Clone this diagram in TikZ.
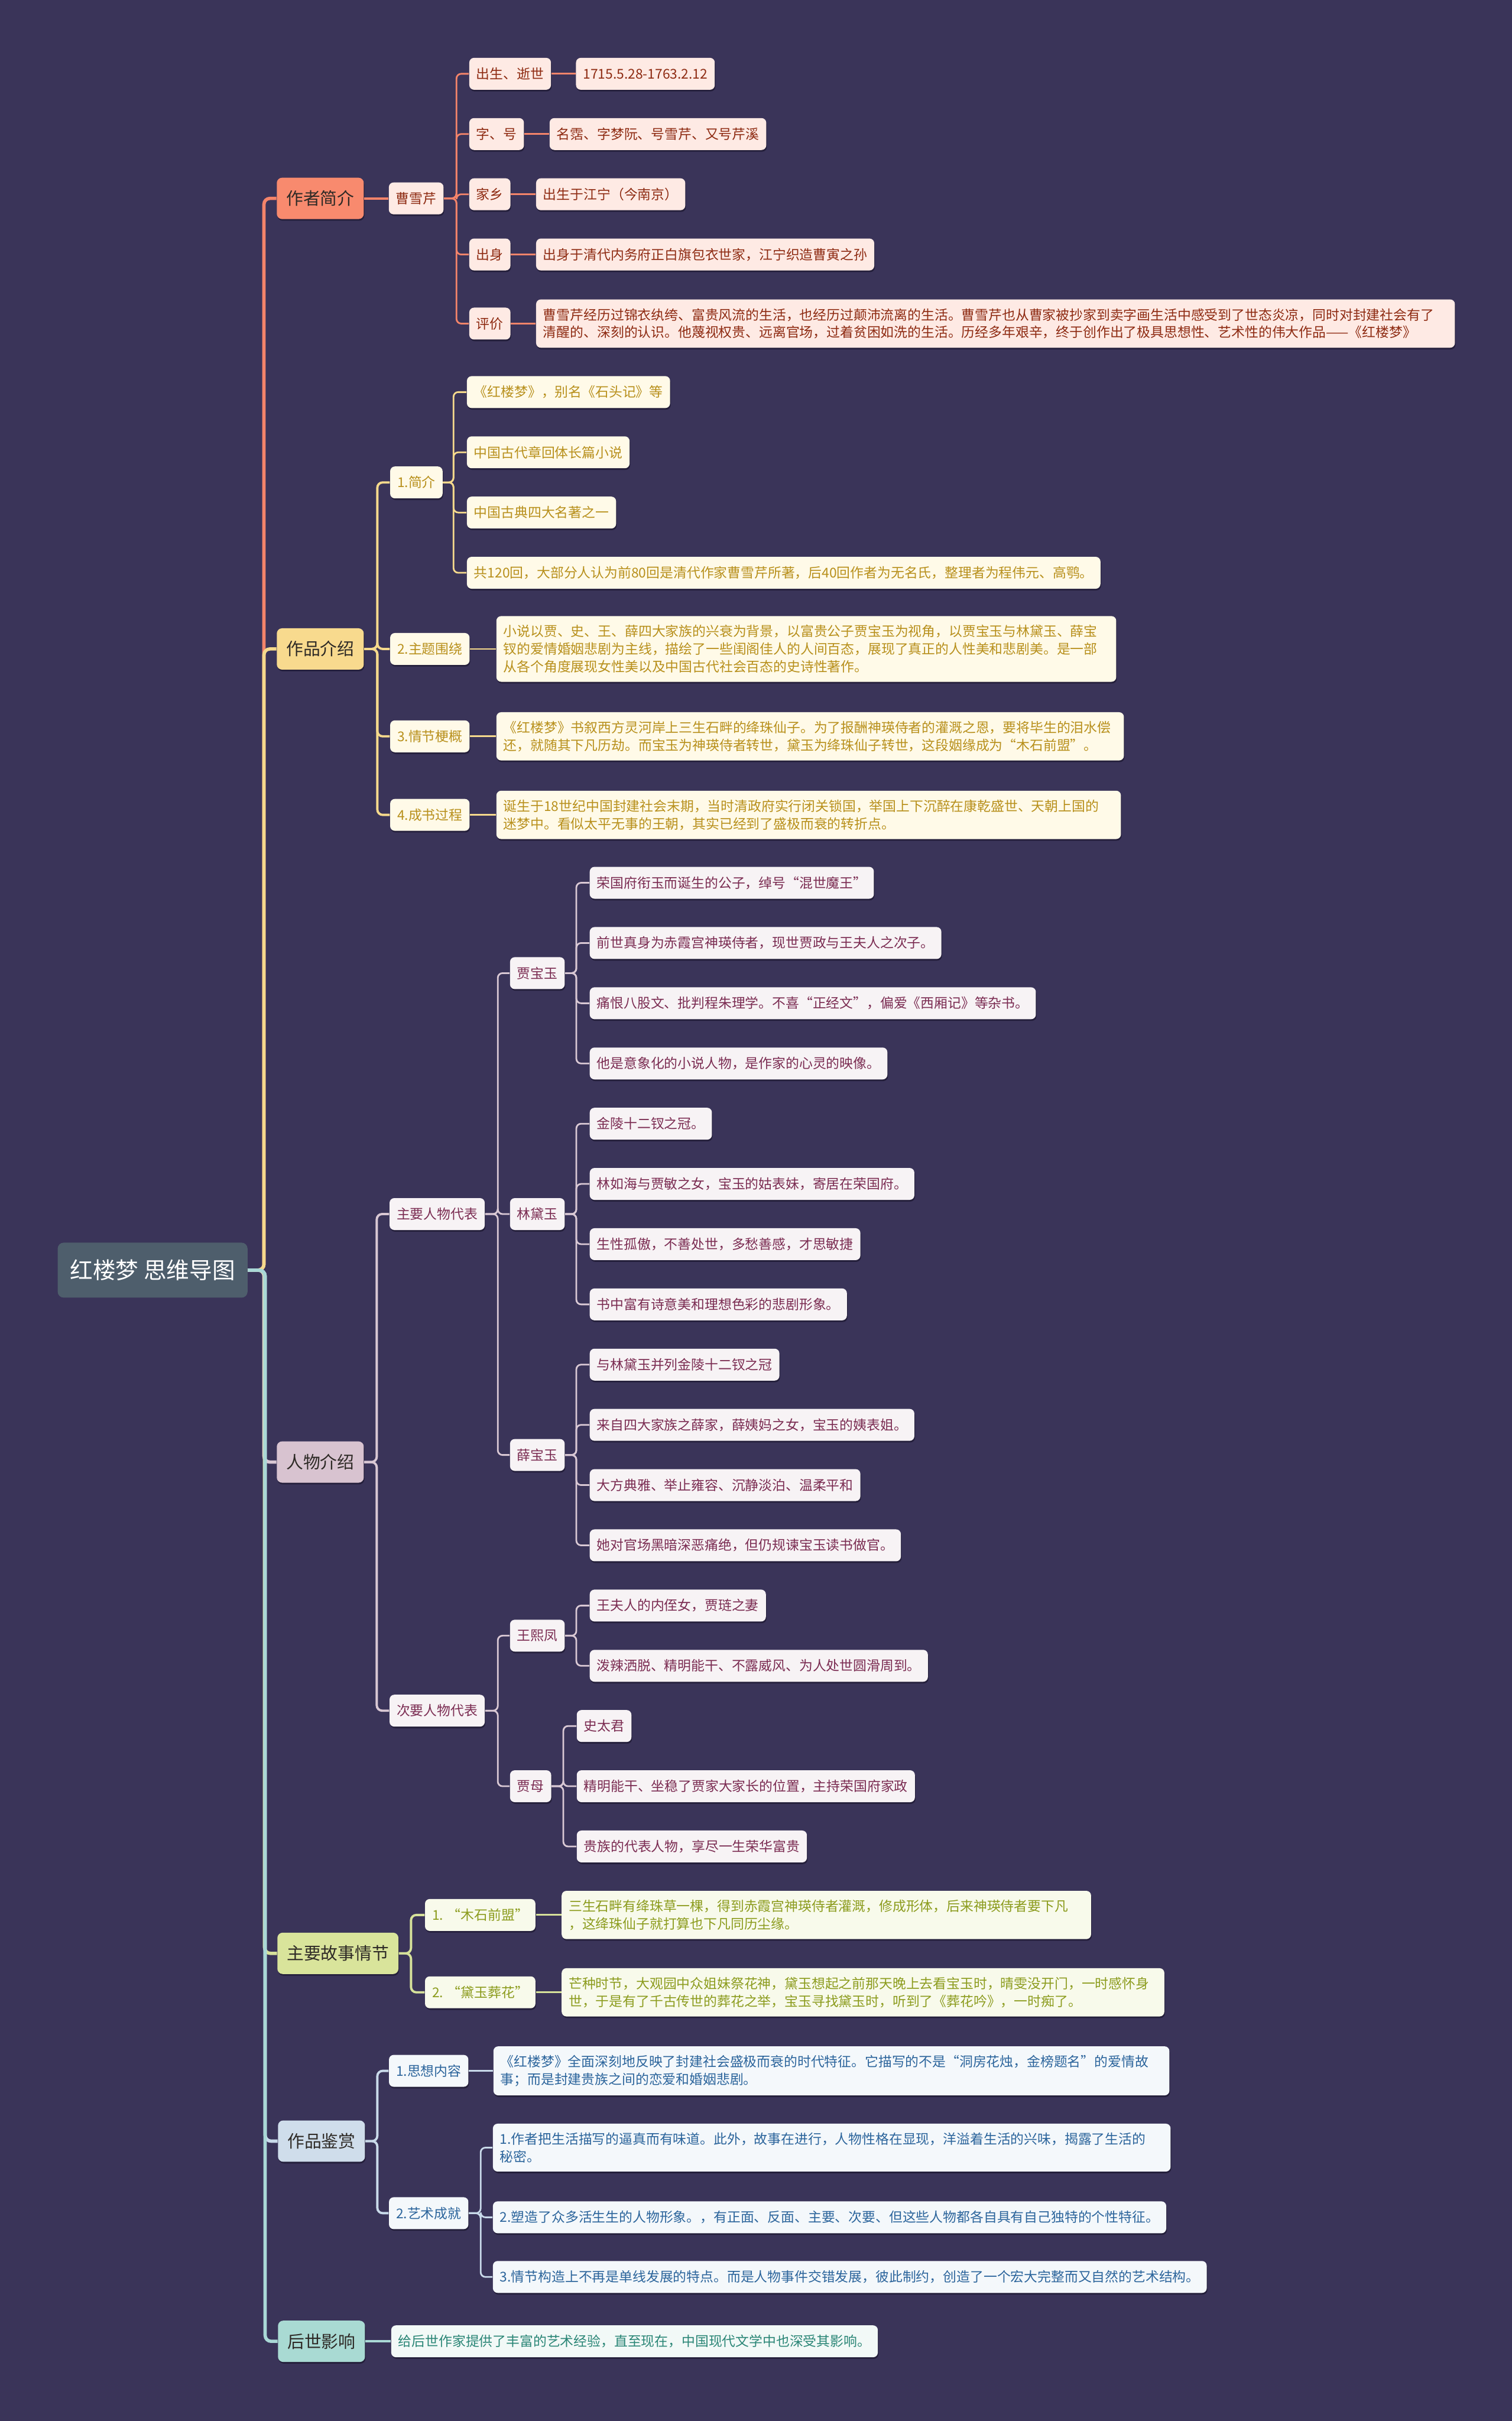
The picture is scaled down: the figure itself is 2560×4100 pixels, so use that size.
\documentclass[tikz,border=0pt]{standalone}
\usepackage{fontspec}
\setmainfont{Noto Sans CJK SC}
\usepackage{tikz}
\usetikzlibrary{shapes,positioning,calc,shadows}

\definecolor{bgc}{HTML}{3A3459}
\definecolor{rootfill}{HTML}{4E5E6C}
\definecolor{topictext}{HTML}{2E2A26}
\definecolor{shadowc}{HTML}{221D38}
% branch colours
\definecolor{authortop}{HTML}{F88A6E}
\definecolor{authorline}{HTML}{F4846A}
\definecolor{authorleaf}{HTML}{FEEAE4}
\definecolor{authortext}{HTML}{8E2B12}
\definecolor{worktop}{HTML}{F8DA8E}
\definecolor{workline}{HTML}{F5D98C}
\definecolor{workleaf}{HTML}{FFFAE8}
\definecolor{worktext}{HTML}{B8901C}
\definecolor{chartop}{HTML}{D8C3D0}
\definecolor{charline}{HTML}{D9C8D4}
\definecolor{charleaf}{HTML}{F7F3F5}
\definecolor{chartext}{HTML}{7B2C52}
\definecolor{plottop}{HTML}{D9E49B}
\definecolor{plotline}{HTML}{D6E19A}
\definecolor{plotleaf}{HTML}{F8FAEB}
\definecolor{plottext}{HTML}{8C9C1E}
\definecolor{apprtop}{HTML}{CFDDEB}
\definecolor{apprline}{HTML}{C9DAEA}
\definecolor{apprleaf}{HTML}{F4F8FB}
\definecolor{apprtext}{HTML}{2C659C}
\definecolor{infltop}{HTML}{A9DAD3}
\definecolor{inflline}{HTML}{A9D8D6}
\definecolor{inflleaf}{HTML}{F2F9F7}
\definecolor{infltext}{HTML}{2A8676}

\begin{document}
\begin{tikzpicture}[x=0.01cm, y=-0.01cm,
    boxshadow/.style={drop shadow={shadow xshift=0.3pt, shadow yshift=-0.8pt, fill=shadowc, opacity=0.9}},
    mapcentre/.style={rounded corners=0.1cm, fill=rootfill, text=white, font=\fontsize{11}{13}\selectfont, inner xsep=0.21cm, minimum height=0.93cm},
    topicbox/.style={rounded corners=0.09cm, text=topictext, font=\fontsize{8.2}{10}\selectfont, inner xsep=0.16cm, minimum height=0.7cm, boxshadow},
    subbox/.style={rounded corners=0.08cm, font=\fontsize{6.5}{8.5}\selectfont, inner xsep=0.12cm, inner ysep=0.15cm, minimum height=0.54cm, align=left, boxshadow},
    linkA/.style={line width=1.6pt, rounded corners=0.1cm},
    linkB/.style={line width=1.1pt, rounded corners=0.09cm},
    linkC/.style={line width=0.8pt, rounded corners=0.08cm},
    authorbox/.style={subbox, fill=authorleaf, text=authortext},
    workbox/.style={subbox, fill=workleaf, text=worktext},
    charbox/.style={subbox, fill=charleaf, text=chartext},
    plotbox/.style={subbox, fill=plotleaf, text=plottext},
    apprbox/.style={subbox, fill=apprleaf, text=apprtext},
    inflbox/.style={subbox, fill=inflleaf, text=infltext}]

    \fill[bgc] (0,0) rectangle (2560,4100);

    % Centre
    \node (root) [mapcentre, anchor=west] at (97,2151) {红楼梦 思维导图};

    % Main topics
    \node (t1) [topicbox, fill=authortop, anchor=west] at (468,336) {作者简介};
    \node (t2) [topicbox, fill=worktop, anchor=west] at (468,1099) {作品介绍};
    \node (t3) [topicbox, fill=chartop, anchor=west] at (468,2476) {人物介绍};
    \node (t4) [topicbox, fill=plottop, anchor=west] at (469,3308) {主要故事情节};
    \node (t5) [topicbox, fill=apprtop, anchor=west] at (470,3626) {作品鉴赏};
    \node (t6) [topicbox, fill=infltop, anchor=west] at (470,3965) {后世影响};

    % Author
    \node (a0) [authorbox, right=0.41cm of t1] {曹雪芹};
    \node (a1) [authorbox, anchor=west] at (794,125) {出生、逝世};
    \node (a2) [authorbox, anchor=west] at (794,227) {字、号};
    \node (a3) [authorbox, anchor=west] at (794,329) {家乡};
    \node (a4) [authorbox, anchor=west] at (794,431) {出身};
    \node (a5) [authorbox, anchor=west] at (794,548) {评价};
    \node (a1v) [authorbox, right=0.41cm of a1] {1715.5.28-1763.2.12};
    \node (a2v) [authorbox, right=0.42cm of a2] {名霑、字梦阮、号雪芹、又号芹溪};
    \node (a3v) [authorbox, right=0.42cm of a3] {出生于江宁（今南京）};
    \node (a4v) [authorbox, right=0.42cm of a4] {出身于清代内务府正白旗包衣世家，江宁织造曹寅之孙};
    \node (a5v) [authorbox, right=0.42cm of a5, text width=15.31cm] {曹雪芹经历过锦衣纨绔、富贵风流的生活，也经历过颠沛流离的生活。曹雪芹也从曹家被抄家到卖字画生活中感受到了世态炎凉，同时对封建社会有了\\清醒的、深刻的认识。他蔑视权贵、远离官场，过着贫困如洗的生活。历经多年艰辛，终于创作出了极具思想性、艺术性的伟大作品——《红楼梦》};

    % Work
    \node (b1) [workbox, anchor=west] at (660,817) {1.简介};
    \node (b2) [workbox, anchor=west] at (660,1099) {2.主题围绕};
    \node (b3) [workbox, anchor=west] at (660,1247) {3.情节梗概};
    \node (b4) [workbox, anchor=west] at (660,1380) {4.成书过程};
    \node (b11) [workbox, anchor=west] at (790,664) {《红楼梦》，别名《石头记》等};
    \node (b12) [workbox, anchor=west] at (790,766) {中国古代章回体长篇小说};
    \node (b13) [workbox, anchor=west] at (790,868) {中国古典四大名著之一};
    \node (b14) [workbox, anchor=west] at (790,970) {共120回，大部分人认为前80回是清代作家曹雪芹所著，后40回作者为无名氏，整理者为程伟元、高鹗。};
    \node (b2v) [workbox, right=0.44cm of b2, text width=10.25cm] {小说以贾、史、王、薛四大家族的兴衰为背景，以富贵公子贾宝玉为视角，以贾宝玉与林黛玉、薛宝\\钗的爱情婚姻悲剧为主线，描绘了一些闺阁佳人的人间百态，展现了真正的人性美和悲剧美。是一部\\从各个角度展现女性美以及中国古代社会百态的史诗性著作。};
    \node (b3v) [workbox, right=0.44cm of b3, text width=10.38cm] {《红楼梦》书叙西方灵河岸上三生石畔的绛珠仙子。为了报酬神瑛侍者的灌溉之恩，要将毕生的泪水偿\\还，就随其下凡历劫。而宝玉为神瑛侍者转世，黛玉为绛珠仙子转世，这段姻缘成为“木石前盟”。};
    \node (b4v) [workbox, right=0.44cm of b4, text width=10.33cm] {诞生于18世纪中国封建社会末期，当时清政府实行闭关锁国，举国上下沉醉在康乾盛世、天朝上国的\\迷梦中。看似太平无事的王朝，其实已经到了盛极而衰的转折点。};

    % Characters
    \node (c1) [charbox, anchor=west] at (659,2056) {主要人物代表};
    \node (c2) [charbox, anchor=west] at (659,2897) {次要人物代表};
    \node (c11) [charbox, anchor=west] at (863,1648) {贾宝玉};
    \node (c12) [charbox, anchor=west] at (863,2056) {林黛玉};
    \node (c13) [charbox, anchor=west] at (863,2464) {薛宝玉};
    \node (c21) [charbox, anchor=west] at (863,2770) {王熙凤};
    \node (c22) [charbox, anchor=west] at (863,3025) {贾母};
    \node (c111) [charbox, anchor=west] at (998,1495) {荣国府衔玉而诞生的公子，绰号“混世魔王”};
    \node (c112) [charbox, anchor=west] at (998,1597) {前世真身为赤霞宫神瑛侍者，现世贾政与王夫人之次子。};
    \node (c113) [charbox, anchor=west] at (998,1699) {痛恨八股文、批判程朱理学。不喜“正经文”，偏爱《西厢记》等杂书。};
    \node (c114) [charbox, anchor=west] at (998,1801) {他是意象化的小说人物，是作家的心灵的映像。};
    \node (c121) [charbox, anchor=west] at (998,1903) {金陵十二钗之冠。};
    \node (c122) [charbox, anchor=west] at (998,2005) {林如海与贾敏之女，宝玉的姑表妹，寄居在荣国府。};
    \node (c123) [charbox, anchor=west] at (998,2107) {生性孤傲，不善处世，多愁善感，才思敏捷};
    \node (c124) [charbox, anchor=west] at (998,2209) {书中富有诗意美和理想色彩的悲剧形象。};
    \node (c131) [charbox, anchor=west] at (998,2311) {与林黛玉并列金陵十二钗之冠};
    \node (c132) [charbox, anchor=west] at (998,2413) {来自四大家族之薛家，薛姨妈之女，宝玉的姨表姐。};
    \node (c133) [charbox, anchor=west] at (998,2515) {大方典雅、举止雍容、沉静淡泊、温柔平和};
    \node (c134) [charbox, anchor=west] at (998,2617) {她对官场黑暗深恶痛绝，但仍规谏宝玉读书做官。};
    \node (c211) [charbox, anchor=west] at (998,2719) {王夫人的内侄女，贾琏之妻};
    \node (c212) [charbox, anchor=west] at (998,2821) {泼辣洒脱、精明能干、不露威风、为人处世圆滑周到。};
    \node (c221) [charbox, anchor=west] at (976,2923) {史太君};
    \node (c222) [charbox, anchor=west] at (976,3025) {精明能干、坐稳了贾家大家长的位置，主持荣国府家政};
    \node (c223) [charbox, anchor=west] at (976,3127) {贵族的代表人物，享尽一生荣华富贵};

    % Plot
    \node (d1) [plotbox, anchor=west] at (719,3243) {1. “木石前盟”};
    \node (d2) [plotbox, anchor=west] at (719,3374) {2. “黛玉葬花”};
    \node (d1v) [plotbox, right=0.43cm of d1, text width=8.72cm] {三生石畔有绛珠草一棵，得到赤霞宫神瑛侍者灌溉，修成形体，后来神瑛侍者要下凡\\，这绛珠仙子就打算也下凡同历尘缘。};
    \node (d2v) [plotbox, right=0.43cm of d2, text width=9.96cm] {芒种时节，大观园中众姐妹祭花神，黛玉想起之前那天晚上去看宝玉时，晴雯没开门，一时感怀身\\世，于是有了千古传世的葬花之举，宝玉寻找黛玉时，听到了《葬花吟》，一时痴了。};

    % Appreciation
    \node (e1) [apprbox, anchor=west] at (658,3507) {1.思想内容};
    \node (e2) [apprbox, anchor=west] at (658,3748) {2.艺术成就};
    \node (e1v) [apprbox, right=0.41cm of e1, text width=11.2cm] {《红楼梦》全面深刻地反映了封建社会盛极而衰的时代特征。它描写的不是“洞房花烛，金榜题名”的爱情故\\事；而是封建贵族之间的恋爱和婚姻悲剧。};
    \node (e21) [apprbox, anchor=west, text width=11.23cm] at (834,3637) {1.作者把生活描写的逼真而有味道。此外，故事在进行，人物性格在显现，洋溢着生活的兴味，揭露了生活的\\秘密。};
    \node (e22) [apprbox, anchor=west] at (834,3755) {2.塑造了众多活生生的人物形象。，有正面、反面、主要、次要、但这些人物都各自具有自己独特的个性特征。};
    \node (e23) [apprbox, anchor=west] at (834,3856) {3.情节构造上不再是单线发展的特点。而是人物事件交错发展，彼此制约，创造了一个宏大完整而又自然的艺术结构。};

    % Influence
    \node (f1) [inflbox, right=0.43cm of t6] {给后世作家提供了丰富的艺术经验，直至现在，中国现代文学中也深受其影响。};

    % Links from centre
    \draw [linkA, authorline] (root.east) -| ([xshift=-0.21cm]t1.west) -- (t1.west);
    \draw [linkA, workline] (root.east) -| ([xshift=-0.21cm]t2.west) -- (t2.west);
    \draw [linkA, charline] (root.east) -| ([xshift=-0.21cm]t3.west) -- (t3.west);
    \draw [linkA, plotline] (root.east) -| ([xshift=-0.21cm]t4.west) -- (t4.west);
    \draw [linkA, apprline] (root.east) -| ([xshift=-0.21cm]t5.west) -- (t5.west);
    \draw [linkA, inflline] (root.east) -| ([xshift=-0.21cm]t6.west) -- (t6.west);

    % Author links
    \draw [linkB, authorline] (t1) -- (a0);
    \foreach \k in {a1,a2,a3,a4,a5}
        \draw [linkC, authorline] (a0.east) -| ([xshift=-0.21cm]\k.west) -- (\k.west);
    \foreach \k in {a1,a2,a3,a4,a5}
        \draw [linkC, authorline] (\k) -- (\k v);

    % Work links
    \foreach \k in {b1,b2,b3,b4}
        \draw [linkB, workline] (t2.east) -| ([xshift=-0.21cm]\k.west) -- (\k.west);
    \foreach \k in {b11,b12,b13,b14}
        \draw [linkC, workline] (b1.east) -| ([xshift=-0.22cm]\k.west) -- (\k.west);
    \foreach \k in {b2,b3,b4}
        \draw [linkC, workline] (\k) -- (\k v);

    % Character links
    \foreach \k in {c1,c2}
        \draw [linkB, charline] (t3.east) -| ([xshift=-0.21cm]\k.west) -- (\k.west);
    \foreach \k in {c11,c12,c13}
        \draw [linkC, charline] (c1.east) -| ([xshift=-0.2cm]\k.west) -- (\k.west);
    \foreach \k in {c21,c22}
        \draw [linkC, charline] (c2.east) -| ([xshift=-0.2cm]\k.west) -- (\k.west);
    \foreach \k in {c111,c112,c113,c114}
        \draw [linkC, charline] (c11.east) -| ([xshift=-0.22cm]\k.west) -- (\k.west);
    \foreach \k in {c121,c122,c123,c124}
        \draw [linkC, charline] (c12.east) -| ([xshift=-0.22cm]\k.west) -- (\k.west);
    \foreach \k in {c131,c132,c133,c134}
        \draw [linkC, charline] (c13.east) -| ([xshift=-0.22cm]\k.west) -- (\k.west);
    \foreach \k in {c211,c212}
        \draw [linkC, charline] (c21.east) -| ([xshift=-0.22cm]\k.west) -- (\k.west);
    \foreach \k in {c221,c222,c223}
        \draw [linkC, charline] (c22.east) -| ([xshift=-0.22cm]\k.west) -- (\k.west);

    % Plot links
    \foreach \k in {d1,d2}
        \draw [linkB, plotline] (t4.east) -| ([xshift=-0.23cm]\k.west) -- (\k.west);
    \foreach \k in {d1,d2}
        \draw [linkC, plotline] (\k) -- (\k v);

    % Appreciation links
    \foreach \k in {e1,e2}
        \draw [linkB, apprline] (t5.east) -| ([xshift=-0.19cm]\k.west) -- (\k.west);
    \draw [linkC, apprline] (e1) -- (e1v);
    \foreach \k in {e21,e22,e23}
        \draw [linkC, apprline] (e2.east) -| ([xshift=-0.2cm]\k.west) -- (\k.west);

    % Influence link
    \draw [linkB, inflline] (t6) -- (f1);
\end{tikzpicture}
\end{document}
